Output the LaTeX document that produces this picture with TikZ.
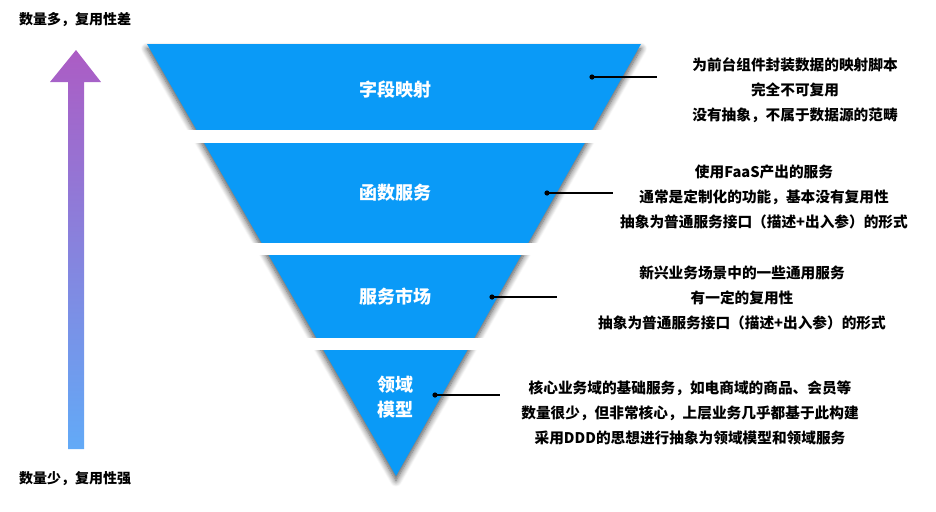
\documentclass[tikz,border=0pt]{standalone}
\usepackage{fontspec}
\setmainfont{Noto Sans CJK SC}
\usepackage{tikz}
\usetikzlibrary{shadows.blur}
\usepackage{xcolor}
\definecolor{funnelblue}{HTML}{0A9AF7}
\definecolor{arrowtop}{HTML}{AC5CC4}
\definecolor{arrowbottom}{HTML}{62AAF7}

\begin{document}
\begin{tikzpicture}[x=0.75pt, y=-0.75pt]
    \tikzstyle{band label} = [font=\fontsize{13.5}{19}\selectfont\bfseries, text=white, align=center]
    \tikzstyle{note} = [font=\fontsize{11}{18.75}\selectfont\bfseries, align=center]
    \tikzstyle{corner} = [font=\fontsize{10.5}{12}\selectfont\bfseries]
    \tikzstyle{leader} = [line width=0.8pt]
    \useasboundingbox (0,0) rectangle (936,511);
    % funnel, cut into four bands by white gaps
    \fill[funnelblue, blur shadow={shadow xshift=0pt, shadow yshift=-3.5pt, shadow blur radius=4.5pt, shadow blur steps=8, shadow opacity=70}] (147,44) -- (641,44) -- (396,476) -- cycle;
    \fill[white] (130,130) rectangle (660,143);
    \fill[white] (200,243) rectangle (600,255);
    \fill[white] (250,338) rectangle (560,350);
    \node[band label] (mapping) at (395,90) {字段映射};
    \node[band label] (faas) at (395,193) {函数服务};
    \node[band label] (market) at (395,297) {服务市场};
    \node[band label] (domain) at (395,397) {领域\\模型};
    % vertical arrow on the left
    \shade[top color=arrowtop, bottom color=arrowbottom] (76,50) -- (101,82) -- (84,82) -- (84,449) -- (68,449) -- (68,82) -- (50,82) -- cycle;
    \node[corner] (many) at (75,20) {数量多，复用性差};
    \node[corner] (few) at (75,479) {数量少，复用性强};
    % leaders and notes
    \coordinate (dot1) at (592,77);
    \coordinate (end1) at (657,77);
    \coordinate (dot2) at (547,193);
    \coordinate (end2) at (613,193);
    \coordinate (dot3) at (492,297);
    \coordinate (end3) at (557,297);
    \coordinate (dot4) at (435,395);
    \coordinate (end4) at (500,395);
    \foreach \i in {1,...,4} {
        \draw[leader] (dot\i) -- (end\i);
        \fill (dot\i) circle (2.6);
    }
    \node[note] (note1) at (795,90) {为前台组件封装数据的映射脚本\\完全不可复用\\没有抽象，不属于数据源的范畴};
    \node[note] (note2) at (764,197) {使用FaaS产出的服务\\通常是定制化的功能，基本没有复用性\\抽象为普通服务接口（描述+出入参）的形式};
    \node[note] (note3) at (742,298) {新兴业务场景中的一些通用服务\\有一定的复用性\\抽象为普通服务接口（描述+出入参）的形式};
    \node[note] (note4) at (690,413) {核心业务域的基础服务，如电商域的商品、会员等\\数量很少，但非常核心，上层业务几乎都基于此构建\\采用DDD的思想进行抽象为领域模型和领域服务};
\end{tikzpicture}
\end{document}
